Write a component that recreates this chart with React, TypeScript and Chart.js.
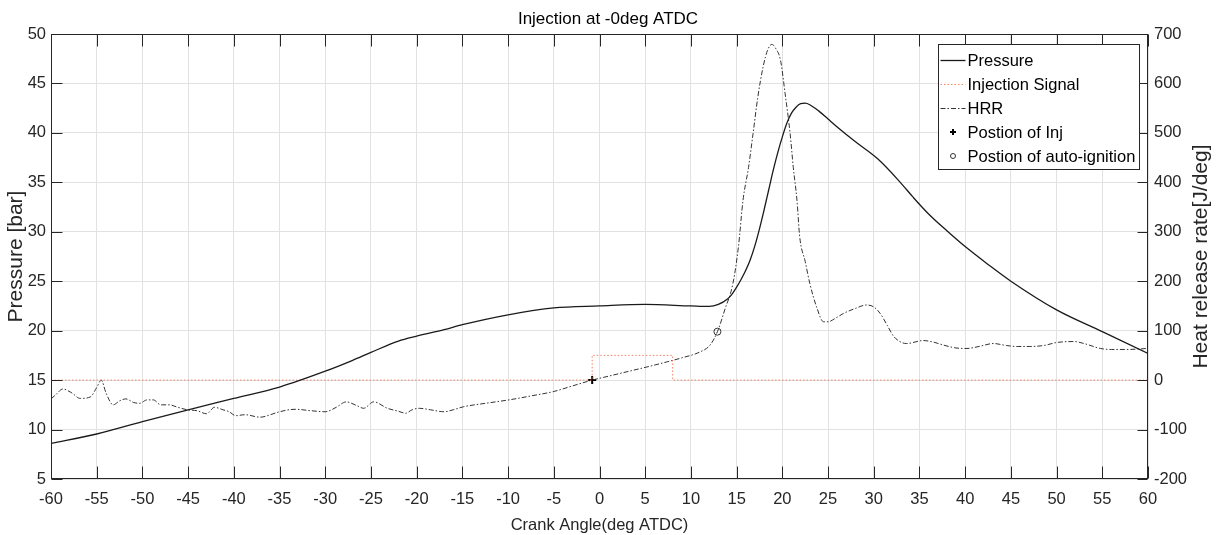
import React, { useEffect, useRef } from 'react';
import { Chart, registerables } from 'chart.js';

Chart.register(...registerables);

// ---------- data ----------
const pressureAngle = [
  -60, -55, -50, -45, -40, -35, -30, -27, -25, -22, -20, -17, -15, -10, -5, 0, 5, 10, 12, 13, 14, 14.5, 15,
  15.5, 16, 16.5, 17, 17.5, 18, 18.5, 19, 19.5, 20, 20.5, 21, 21.5, 22, 22.5, 23, 24, 25, 26, 28, 30.4, 32.9,
  34.3, 36, 38, 40, 42.5, 45, 50, 55, 60,
];
const pressureBar = [
  8.6, 9.55, 10.8, 12.0, 13.15, 14.3, 15.9, 17.0, 17.8, 18.95, 19.45, 20.1, 20.6, 21.6, 22.3, 22.5, 22.65,
  22.5, 22.45, 22.65, 23.2, 23.7, 24.4, 25.2, 26.1, 27.2, 28.6, 30.3, 32.2, 34.2, 36.2, 38.0, 39.6, 41.0, 42.0,
  42.6, 42.95, 43.0, 42.85, 42.2, 41.4, 40.6, 39.1, 37.4, 35.0, 33.5, 31.8, 30.1, 28.5, 26.7, 25.0, 22.1, 19.9,
  17.7,
];

const hrrAngle = [
  -60, -59.5, -58.7, -57.8, -56.8, -55.7, -55, -54.5, -54, -53.2, -52.5, -51.8, -51, -50.3, -49.5, -48.8, -48,
  -47, -46.3, -45.1, -44, -43, -42.1, -41.2, -40.5, -39.8, -38.8, -37.1, -36, -35, -33.3, -31.5, -30, -28.8,
  -27.7, -26.5, -25.8, -24.7, -23.2, -22, -21.2, -20.5, -19.7, -18.5, -17, -16, -14.9, -12.5, -9.9, -7.5, -5,
  -3, -0.8, 1, 3.7, 5.5, 7.4, 9, 11, 12.1, 12.9, 13.7, 14.6, 15.2, 15.7, 16.3, 16.8, 17.3, 17.9, 18.4, 18.85,
  19.3, 19.8, 20.3, 20.85, 21.2, 21.6, 21.9, 22.5, 23, 23.8, 24.5, 25, 25.8, 26.7, 28, 29.2, 30, 30.7, 31.5,
  32.2, 33.6, 35.4, 36.5, 37.6, 39, 40.2, 41.5, 43.1, 44.5, 45.7, 47, 48.6, 50, 51.9, 53, 54.8, 56, 57.7, 60,
];
const hrrValue = [
  -38, -30, -18, -25, -37, -34, -15, 0, -25, -50, -42, -38, -45, -47, -40, -40, -50, -50, -54, -60, -62, -68,
  -55, -60, -64, -72, -70, -75, -70, -64, -59, -62, -64, -55, -44, -52, -57, -44, -57, -63, -67, -60, -57, -60,
  -64, -60, -54, -47, -40, -32, -23, -12, 0, 8, 20, 28, 37, 45, 57, 71, 98, 142, 196, 270, 364, 430, 499, 570,
  634, 668, 679, 670, 647, 580, 499, 430, 364, 290, 240, 196, 145, 118, 118, 125, 135, 145, 152, 148, 135, 110,
  88, 74, 80, 77, 71, 65, 64, 68, 74, 70, 68, 68, 70, 76, 78, 74, 64, 62, 62, 64,
];

const injAngle = [-60, -0.8, -0.8, 8, 8, 60];
const injSignal = [0, 0, 50, 50, 0, 0];

const injMarkAngle = [-0.8];
const injMarkValue = [0];
const ignMarkAngle = [12.9];
const ignMarkValue = [98];

const titleText = 'Injection at -0deg ATDC';
const xTitle = 'Crank Angle(deg ATDC)';
const yTitle = 'Pressure [bar]';
const y1Title = 'Heat release rate[J/deg]';

// ---------- styling ----------
const FONT = "'Liberation Sans', Arial, sans-serif";
const AXIS = '#262626';
const GRID = '#e2e2e2';

const pts = (xs: number[], ys: number[]) => xs.map((x, i) => ({ x, y: ys[i] }));

function drawMarker(ctx: CanvasRenderingContext2D, style: string, x: number, y: number, r: number) {
  ctx.beginPath();
  if (style === 'cross') {
    ctx.moveTo(x - r, y);
    ctx.lineTo(x + r, y);
    ctx.moveTo(x, y - r);
    ctx.lineTo(x, y + r);
  } else {
    ctx.arc(x, y, r, 0, Math.PI * 2);
  }
  ctx.stroke();
}

const framePlugin = {
  id: 'matlabFrame',
  afterDatasetsDraw(chart: any) {
    const { ctx, chartArea, scales } = chart;
    const left = Math.round(chartArea.left) + 0.5;
    const right = Math.round(chartArea.right) - 0.5;
    const top = Math.round(chartArea.top) + 0.5;
    const bottom = Math.round(chartArea.bottom) - 0.5;
    ctx.save();
    ctx.strokeStyle = AXIS;
    ctx.lineWidth = 1;
    ctx.setLineDash([]);
    ctx.beginPath();
    scales.x.ticks.forEach((t: any) => {
      const px = Math.round(scales.x.getPixelForValue(t.value)) + 0.5;
      ctx.moveTo(px, bottom);
      ctx.lineTo(px, bottom - 12);
      ctx.moveTo(px, top);
      ctx.lineTo(px, top + 12);
    });
    scales.y.ticks.forEach((t: any) => {
      const py = Math.round(scales.y.getPixelForValue(t.value)) + 0.5;
      ctx.moveTo(left, py);
      ctx.lineTo(left + 11, py);
    });
    scales.y1.ticks.forEach((t: any) => {
      const py = Math.round(scales.y1.getPixelForValue(t.value)) + 0.5;
      ctx.moveTo(right, py);
      ctx.lineTo(right - 10, py);
    });
    ctx.stroke();
    ctx.strokeRect(left, top, right - left, bottom - top);
    ctx.restore();
  },
  afterDraw(chart: any) {
    const { ctx, chartArea } = chart;
    ctx.save();
    // right axis title, reading bottom-to-top
    ctx.fillStyle = AXIS;
    ctx.font = `21px ${FONT}`;
    ctx.textAlign = 'center';
    ctx.textBaseline = 'middle';
    ctx.translate(chart.width - 15, (chartArea.top + chartArea.bottom) / 2);
    ctx.rotate(-Math.PI / 2);
    ctx.fillText(y1Title, 0, 0);
    ctx.restore();

    // legend box
    ctx.save();
    const bx = Math.round(chartArea.right) - 210 + 0.5;
    const by = Math.round(chartArea.top) + 10 + 0.5;
    const bw = 201;
    const bh = 125;
    ctx.fillStyle = '#ffffff';
    ctx.fillRect(bx, by, bw, bh);
    ctx.strokeStyle = AXIS;
    ctx.lineWidth = 1;
    ctx.strokeRect(bx, by, bw, bh);
    ctx.font = `16.5px ${FONT}`;
    ctx.textAlign = 'left';
    ctx.textBaseline = 'middle';
    chart.data.datasets.forEach((d: any, i: number) => {
      const y = by + 15.5 + i * 24;
      ctx.save();
      ctx.strokeStyle = d.borderColor;
      ctx.lineWidth = d.borderWidth;
      if (d.showLine !== false) {
        ctx.setLineDash(d.borderDash || []);
        ctx.beginPath();
        ctx.moveTo(bx + 2, Math.round(y) + 0.5);
        ctx.lineTo(bx + 27, Math.round(y) + 0.5);
        ctx.stroke();
      } else {
        ctx.setLineDash([]);
        ctx.strokeStyle = d.pointBorderColor;
        ctx.lineWidth = d.pointBorderWidth;
        drawMarker(ctx, d.pointStyle, bx + 14.5, y, d.pointStyle === 'cross' ? 3 : 2.5);
      }
      ctx.restore();
      ctx.fillStyle = '#000000';
      ctx.fillText(d.label, bx + 29, y + 1);
    });
    ctx.restore();
  },
};

export default function App() {
  const canvasRef = useRef<HTMLCanvasElement | null>(null);

  useEffect(() => {
    if (!canvasRef.current) return;
    const chart = new Chart(canvasRef.current, {
      type: 'line',
      data: {
        datasets: [
          {
            label: 'Pressure',
            data: pts(pressureAngle, pressureBar),
            yAxisID: 'y',
            borderColor: '#1a1a1a',
            borderWidth: 1.3,
            pointRadius: 0,
            cubicInterpolationMode: 'monotone',
            fill: false,
          },
          {
            label: 'Injection Signal',
            data: pts(injAngle, injSignal),
            yAxisID: 'y1',
            borderColor: 'rgba(240,110,80,0.85)',
            borderWidth: 1,
            borderDash: [1.5, 2],
            pointRadius: 0,
            tension: 0,
            fill: false,
          },
          {
            label: 'HRR',
            data: pts(hrrAngle, hrrValue),
            yAxisID: 'y1',
            borderColor: '#333333',
            borderWidth: 1,
            borderDash: [5, 2, 1.5, 2],
            pointRadius: 0,
            cubicInterpolationMode: 'monotone',
            fill: false,
          },
          {
            label: 'Postion of Inj',
            data: pts(injMarkAngle, injMarkValue),
            yAxisID: 'y1',
            showLine: false,
            pointStyle: 'cross',
            pointRadius: 4,
            pointBorderWidth: 2,
            pointBorderColor: '#000000',
            borderColor: '#000000',
            borderWidth: 2,
          },
          {
            label: 'Postion of auto-ignition',
            data: pts(ignMarkAngle, ignMarkValue),
            yAxisID: 'y1',
            showLine: false,
            pointStyle: 'circle',
            pointRadius: 3.5,
            pointBorderWidth: 1,
            pointBorderColor: '#333333',
            pointBackgroundColor: 'rgba(0,0,0,0)',
            borderColor: '#333333',
            borderWidth: 1,
          },
        ],
      } as any,
      options: {
        responsive: false,
        animation: false,
        layout: { padding: 0 },
        plugins: {
          legend: { display: false },
          tooltip: { enabled: false },
          title: {
            display: true,
            text: titleText,
            color: '#000000',
            font: { family: FONT, size: 17, weight: 'normal', lineHeight: 1.2 },
            padding: { top: 9, bottom: 4.6 },
          },
        },
        scales: {
          x: {
            type: 'linear',
            min: -60,
            max: 60,
            ticks: {
              stepSize: 5,
              color: AXIS,
              font: { family: FONT, size: 16.5 },
              padding: 11,
              maxRotation: 0,
              autoSkip: false,
            },
            grid: { color: GRID, drawTicks: false, lineWidth: 1 },
            border: { display: false },
            title: {
              display: true,
              text: xTitle,
              color: AXIS,
              font: { family: FONT, size: 16.5, lineHeight: 1.0 },
              padding: { top: 0, bottom: 1 },
            },
            afterFit: (s: any) => {
              s.height = 56;
            },
          },
          y: {
            type: 'linear',
            position: 'left',
            min: 5,
            max: 50,
            ticks: {
              stepSize: 5,
              color: AXIS,
              font: { family: FONT, size: 16.5 },
              padding: 5,
            },
            grid: { color: GRID, drawTicks: false, lineWidth: 1 },
            border: { display: false },
            title: {
              display: true,
              text: yTitle,
              color: AXIS,
              font: { family: FONT, size: 21, lineHeight: 1.2 },
              padding: { top: 4, bottom: 0 },
            },
            afterFit: (s: any) => {
              s.width = 51;
            },
          },
          y1: {
            type: 'linear',
            position: 'right',
            min: -200,
            max: 700,
            ticks: {
              stepSize: 100,
              color: AXIS,
              font: { family: FONT, size: 16.5 },
              padding: 6,
            },
            grid: { display: false, drawTicks: false },
            border: { display: false },
            afterFit: (s: any) => {
              s.width = 68;
            },
          },
        },
      } as any,
      plugins: [framePlugin],
    });
    return () => chart.destroy();
  }, []);

  return (
    <div style={{ position: 'absolute', left: 0, top: 0, width: 1216, height: 535, background: '#fff' }}>
      <canvas ref={canvasRef} width={1216} height={535} />
    </div>
  );
}
